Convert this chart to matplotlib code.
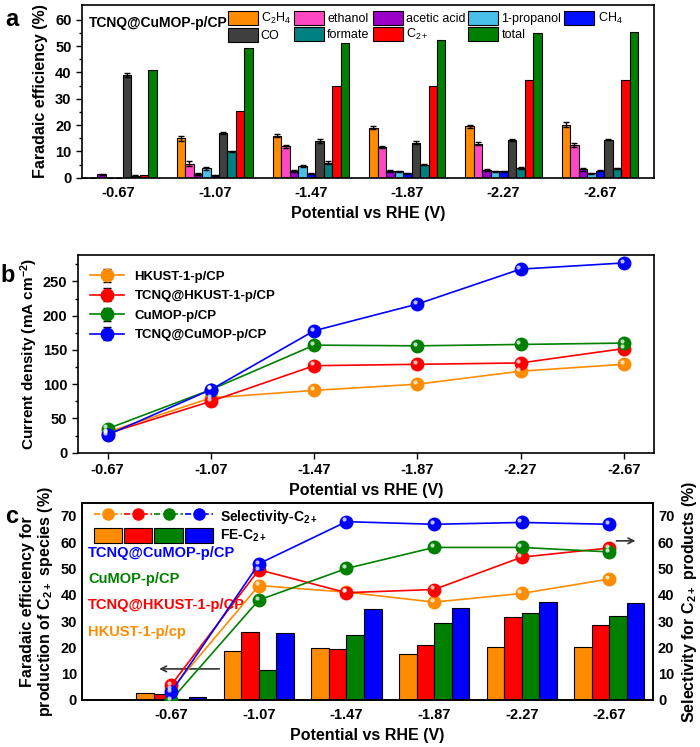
import numpy as np
import matplotlib.pyplot as plt
from matplotlib.lines import Line2D
from matplotlib.patches import Patch
from matplotlib.legend_handler import HandlerTuple
from matplotlib.transforms import offset_copy

plt.rcParams['font.family'] = ['Liberation Sans', 'DejaVu Sans']
plt.rcParams['font.weight'] = 'bold'
plt.rcParams['axes.labelweight'] = 'bold'
plt.rcParams['axes.linewidth'] = 1.2
plt.rcParams['mathtext.default'] = 'regular'

potentials = ['-0.67', '-1.07', '-1.47', '-1.87', '-2.27', '-2.67']

# panel a: product distribution of TCNQ@CuMOP-p/CP
prod_names = ['C$_2$H$_4$', 'ethanol', 'acetic acid', '1-propanol', 'CH$_4$',
              'CO', 'formate', 'C$_{2+}$', 'total']
prod_colors = ['#ff8c00', '#ff48c4', '#9a00c8', '#48c0e8', '#0010ff',
               '#404040', '#008080', '#ff0000', '#008000']
fe_c2h4 = [0, 15.0, 16.0, 19.0, 19.5, 20.2]
fe_ethanol = [0, 5.3, 12.0, 11.7, 13.0, 12.4]
fe_acetic = [1.3, 1.5, 2.5, 2.6, 3.0, 3.2]
fe_propanol = [0, 3.6, 4.4, 2.5, 2.4, 1.8]
fe_ch4 = [0, 0.9, 1.5, 1.8, 2.4, 2.7]
fe_co = [39.0, 17.0, 14.0, 13.3, 14.3, 14.5]
fe_formate = [0.8, 10.0, 5.8, 5.0, 3.7, 3.6]
fe_c2p = [1.2, 25.5, 34.8, 35.0, 37.3, 37.0]
fe_total = [41.0, 49.3, 51.2, 52.3, 55.0, 55.4]
err_c2h4 = [0, 1.0, 0.6, 0.5, 0.5, 0.8]
err_ethanol = [0, 1.0, 0.6, 0.4, 0.5, 0.8]
err_acetic = [0.3, 0.3, 0.4, 0.3, 0.3, 0.6]
err_propanol = [0, 0.5, 0.3, 0.2, 0.2, 0.2]
err_ch4 = [0, 0.2, 0.2, 0.2, 0.2, 0.2]
err_co = [0.6, 0.4, 0.8, 0.6, 0.3, 0.3]
err_formate = [0.1, 0.3, 0.4, 0.3, 0.3, 0.3]

# panel b: current density (mA cm-2)
cat_names = ['HKUST-1-p/CP', 'TCNQ@HKUST-1-p/CP', 'CuMOP-p/CP', 'TCNQ@CuMOP-p/CP']
cat_colors = ['#ff8c00', '#ff0000', '#008000', '#0000ff']
j_hkust = [30, 80, 91, 100, 119, 129]
j_tcnq_hkust = [28, 75, 127, 129, 131, 152]
j_cumop = [35, 92, 157, 156, 158, 160]
j_tcnq_cumop = [26, 92, 178, 217, 268, 277]
j_err = [4, 4, 5, 5, 5, 4]

# panel c: FE C2+ (bars) and selectivity C2+ (lines)
fe_hkust = [2.5, 18.5, 19.8, 17.5, 20.0, 20.0]
fe_tcnq_hkust = [2.3, 26.0, 19.5, 21.0, 31.4, 28.5]
fe_cumop = [0.0, 11.5, 24.8, 29.3, 33.2, 32.0]
fe_tcnq_cumop = [1.2, 25.5, 34.7, 35.0, 37.3, 37.0]
sel_hkust = [4.0, 43.5, 41.0, 37.2, 40.5, 46.0]
sel_tcnq_hkust = [5.7, 49.5, 40.8, 42.0, 54.3, 57.8]
sel_cumop = [0.0, 38.0, 50.0, 58.0, 58.0, 56.3]
sel_tcnq_cumop = [3.0, 51.8, 67.8, 66.8, 67.5, 66.8]

x = np.arange(len(potentials))
fig = plt.figure(figsize=(7.0, 7.47), dpi=100)
TICK = 10.5
LAB = 11.5


def shine(ax, xs, ys):
    # small highlight so the round markers look like little spheres
    tr = offset_copy(ax.transData, fig=fig, x=-1.6, y=1.6, units='points')
    ax.plot(xs, ys, ls='none', marker='o', ms=3, mfc='white', mec='none',
            alpha=0.75, transform=tr, zorder=5)


# ---------------- panel a ----------------
axa = fig.add_axes([0.117, 0.762, 0.817, 0.231])
series = [fe_c2h4, fe_ethanol, fe_acetic, fe_propanol, fe_ch4, fe_co, fe_formate, fe_c2p, fe_total]
errs = [err_c2h4, err_ethanol, err_acetic, err_propanol, err_ch4, err_co, err_formate, None, None]
w = 0.088
handles = []
for i, (vals, e) in enumerate(zip(series, errs)):
    pos = x + (i - 4) * w
    b = axa.bar(pos, vals, w, color=prod_colors[i], edgecolor='black', linewidth=0.8,
                label=prod_names[i], zorder=2)
    if e is not None:
        axa.errorbar(pos, vals, yerr=e, fmt='none', ecolor='black', elinewidth=1,
                     capsize=2.5, capthick=1, zorder=3)
    handles.append(b)
axa.set_xlim(-0.38, 5.56)
axa.set_ylim(0, 65.5)
axa.set_xticks(x)
axa.set_xticklabels(potentials, fontsize=TICK)
axa.tick_params(axis='x', length=0, pad=6)
axa.set_yticks(np.arange(0, 61, 10))
axa.set_yticks(np.arange(5, 65, 10), minor=True)
axa.tick_params(axis='y', labelsize=TICK, length=4, width=1)
axa.tick_params(axis='y', which='minor', length=2.5, width=1)
axa.set_ylabel('Faradaic efficiency (%)', fontsize=LAB, labelpad=5)
axa.set_xlabel('Potential vs RHE (V)', fontsize=LAB, labelpad=4)
order = [0, 5, 1, 6, 2, 7, 3, 8, 4]
axa.legend([handles[k] for k in order], [prod_names[k] for k in order], ncol=5,
           loc='upper left', bbox_to_anchor=(0.235, 1.03), frameon=False,
           prop={'weight': 'normal', 'size': 9}, handlelength=2.4, handleheight=1.3,
           columnspacing=0.25, handletextpad=0.25, labelspacing=0.15)
axa.text(0.012, 0.935, 'TCNQ@CuMOP-p/CP', transform=axa.transAxes, fontsize=10,
         fontweight='bold', va='top')
fig.text(0.008, 0.965, 'a', fontsize=17, fontweight='bold')

# ---------------- panel b ----------------
axb = fig.add_axes([0.111, 0.394, 0.823, 0.265])
jdata = [j_hkust, j_tcnq_hkust, j_cumop, j_tcnq_cumop]
for vals, c, n in zip(jdata, cat_colors, cat_names):
    axb.errorbar(x, vals, yerr=j_err, color=c, lw=1.2, marker='o', ms=9,
                 mfc=c, mec=c, ecolor='black', elinewidth=1, capsize=3, label=n, zorder=3)
    shine(axb, x, vals)
axb.set_xlim(-0.29, 5.29)
axb.set_ylim(0, 289)
axb.set_xticks(x)
axb.set_xticklabels(potentials, fontsize=TICK)
axb.set_yticks(np.arange(0, 251, 50))
axb.set_yticks(np.arange(25, 289, 50), minor=True)
axb.tick_params(axis='both', labelsize=TICK, length=4, width=1)
axb.tick_params(axis='y', which='minor', length=2.5, width=1)
axb.set_ylabel('Current density (mA cm$^{-2}$)', fontsize=11, labelpad=2)
axb.set_xlabel('Potential vs RHE (V)', fontsize=LAB, labelpad=4)
axb.legend(loc='upper left', bbox_to_anchor=(0.0, 0.98), frameon=False,
           prop={'weight': 'bold', 'size': 9.5}, handlelength=2.6, labelspacing=0.55)
fig.text(0.0, 0.622, 'b', fontsize=17, fontweight='bold')

# ---------------- panel c ----------------
axc = fig.add_axes([0.117, 0.063, 0.816, 0.264])
fedata = [fe_hkust, fe_tcnq_hkust, fe_cumop, fe_tcnq_cumop]
seldata = [sel_hkust, sel_tcnq_hkust, sel_cumop, sel_tcnq_cumop]
wb = 0.2
for i, (vals, c) in enumerate(zip(fedata, cat_colors)):
    axc.bar(x + (i - 1.5) * wb, vals, wb, color=c, edgecolor='black', linewidth=0.8, zorder=2)
axc.set_xlim(-1.02, 5.5)
axc.set_ylim(0, 75)
axc.set_xticks(x)
axc.set_xticklabels(potentials, fontsize=TICK)
axc.tick_params(axis='x', length=0, pad=6)
axc.set_yticks(np.arange(0, 71, 10))
axc.tick_params(axis='y', labelsize=TICK, length=0)
axc.set_ylabel('Faradaic efficiency for\nproduction of C$_{2+}$ species (%)', fontsize=LAB,
               labelpad=4, linespacing=1.1)
axc.set_xlabel('Potential vs RHE (V)', fontsize=LAB, labelpad=4)

axr = axc.twinx()
axr.set_ylim(0, 75)
axr.set_yticks(np.arange(0, 71, 10))
axr.tick_params(axis='y', labelsize=TICK, length=0)
axr.set_ylabel('Selectivity for C$_{2+}$ products (%)', fontsize=LAB, labelpad=4)
for vals, c in zip(seldata, cat_colors):
    axr.plot(x, vals, color=c, lw=1.2, marker='o', ms=9, mfc=c, mec=c, zorder=3)
    shine(axr, x, vals)

line_proxies = tuple(Line2D([], [], color=c, ls='--', lw=1.2, marker='o', ms=8, mfc=c, mec=c)
                     for c in cat_colors)
bar_proxies = tuple(Patch(facecolor=c, edgecolor='black', lw=0.8) for c in cat_colors)
axc.legend([line_proxies, bar_proxies], ['Selectivity-C$_{2+}$', 'FE-C$_{2+}$'],
           handler_map={tuple: HandlerTuple(ndivide=None, pad=0.15)},
           loc='upper left', bbox_to_anchor=(0.012, 1.0), frameon=False,
           prop={'weight': 'bold', 'size': 10}, handlelength=8.6, handleheight=1.3,
           labelspacing=0.15, handletextpad=0.5, borderpad=0.15, borderaxespad=0.2)
for name, c, yv in zip(cat_names[::-1], cat_colors[::-1], [56, 46, 36, 26]):
    label = 'HKUST-1-p/cp' if name == 'HKUST-1-p/CP' else name
    axc.text(-0.95, yv, label, color=c, fontsize=10.5, fontweight='bold', va='center')
axc.annotate('', xy=(-0.17, 11.8), xytext=(0.58, 11.8),
             arrowprops=dict(arrowstyle='->', color='#333333', lw=1.2))
axr.annotate('', xy=(5.33, 60.5), xytext=(5.05, 60.5),
             arrowprops=dict(arrowstyle='->', color='#333333', lw=1.2))
fig.text(0.008, 0.30, 'c', fontsize=17, fontweight='bold')

fig.savefig('out.png', dpi=100)
